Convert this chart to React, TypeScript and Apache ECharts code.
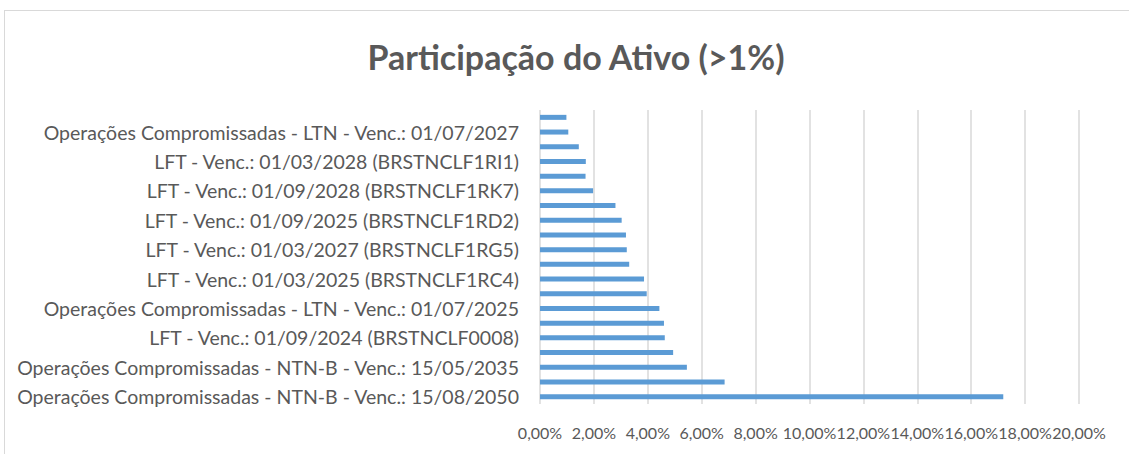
import React, { useEffect, useRef } from "react";
import * as echarts from "echarts";

const TITLE = "Participação do Ativo (>1%)";

// Categories from bottom to top (Excel order)
const categories: string[] = [
  "Operações Compromissadas - NTN-B - Venc.: 15/08/2050",
  "Ativo 2",
  "Operações Compromissadas - NTN-B - Venc.: 15/05/2035",
  "Ativo 4",
  "LFT - Venc.: 01/09/2024 (BRSTNCLF0008)",
  "Ativo 6",
  "Operações Compromissadas - LTN - Venc.: 01/07/2025",
  "Ativo 8",
  "LFT - Venc.: 01/03/2025 (BRSTNCLF1RC4)",
  "Ativo 10",
  "LFT - Venc.: 01/03/2027 (BRSTNCLF1RG5)",
  "Ativo 12",
  "LFT - Venc.: 01/09/2025 (BRSTNCLF1RD2)",
  "Ativo 14",
  "LFT - Venc.: 01/09/2028 (BRSTNCLF1RK7)",
  "Ativo 16",
  "LFT - Venc.: 01/03/2028 (BRSTNCLF1RI1)",
  "Ativo 18",
  "Operações Compromissadas - LTN - Venc.: 01/07/2027",
  "Ativo 20",
];

// Participation in percent
const values: number[] = [
  17.19, 6.85, 5.45, 4.94, 4.63, 4.6, 4.43, 3.96, 3.86, 3.31,
  3.22, 3.19, 3.03, 2.8, 1.97, 1.69, 1.7, 1.44, 1.05, 0.98,
];

const X_MIN = 0;
const X_MAX = 20;
const X_STEP = 2;

export default function App() {
  const ref = useRef<HTMLDivElement>(null);
  useEffect(() => {
    if (!ref.current) return;
    const chart = echarts.init(ref.current, undefined, { renderer: "svg" });
    const font = "Lato, 'Open Sans', sans-serif";
    chart.setOption({
      animation: false,
      backgroundColor: "#ffffff",
      title: {
        text: TITLE,
        left: 571,
        textAlign: "center",
        top: 34,
        textStyle: {
          fontFamily: font,
          fontSize: 34,
          fontWeight: "bold",
          color: "#595959",
        },
      },
      graphic: [
        {
          type: "line",
          shape: { x1: 4, y1: 10.5, x2: 1129, y2: 10.5 },
          style: { stroke: "#d9d9d9", lineWidth: 1 },
        },
        {
          type: "line",
          shape: { x1: 4.5, y1: 10, x2: 4.5, y2: 454 },
          style: { stroke: "#d9d9d9", lineWidth: 1 },
        },
      ],
      grid: { left: 540, right: 50, top: 110, bottom: 50, containLabel: false },
      xAxis: {
        type: "value",
        min: X_MIN,
        max: X_MAX,
        interval: X_STEP,
        axisLine: { show: false },
        axisTick: { show: false },
        splitLine: { show: true, lineStyle: { color: "#d9d9d9", width: 1.5 } },
        axisLabel: {
          margin: 20,
          color: "#595959",
          fontFamily: font,
          fontSize: 16,
          hideOverlap: false,
          showMinLabel: true,
          showMaxLabel: true,
          formatter: (v: number) => v.toFixed(2).replace(".", ",") + "%",
        },
      },
      yAxis: {
        type: "category",
        data: categories,
        axisLine: { show: false },
        axisTick: { show: false },
        axisLabel: {
          interval: 1,
          margin: 21,
          color: "#595959",
          fontFamily: font,
          fontSize: 19.5,
        },
      },
      series: [
        {
          type: "bar",
          data: values,
          barWidth: 5,
          itemStyle: { color: "#5B9BD5" },
        },
      ],
    });
    return () => chart.dispose();
  }, []);
  return (
    <div
      ref={ref}
      style={{ position: "fixed", left: 0, top: 0, width: 1129, height: 454 }}
    />
  );
}
